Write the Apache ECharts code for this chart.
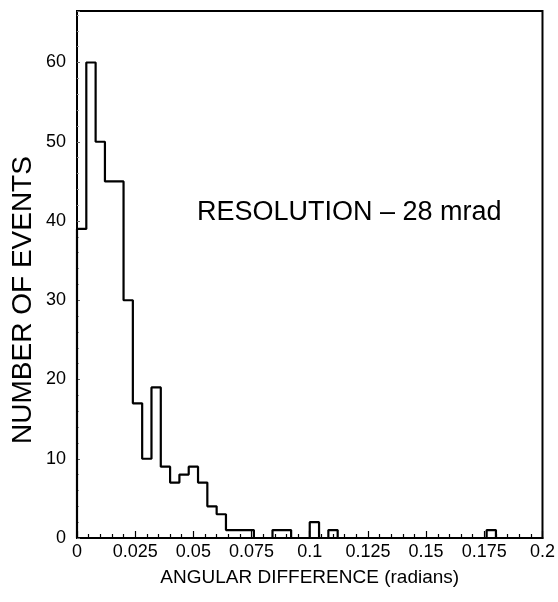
<!DOCTYPE html>
<html>
<head>
<meta charset="utf-8">
<script src="https://cdn.jsdelivr.net/npm/echarts@6/dist/echarts.min.js"></script>
<style>
html,body{margin:0;padding:0;background:#fff;}
#chart{width:558px;height:602px;}
</style>
</head>
<body>
<div id="chart"></div>
<script>
// Histogram of angular difference (radians), bin width 0.004, 50 bins from 0 to 0.2
var binStart = 0;
var binWidth = 0.004;
var counts = [39, 60, 50, 45, 45, 30, 17, 10, 19, 9,
              7, 8, 9, 7, 4, 3, 1, 1, 1, 0,
              0, 1, 1, 0, 0, 2, 0, 1, 0, 0,
              0, 0, 0, 0, 0, 0, 0, 0, 0, 0,
              0, 0, 0, 0, 1, 0, 0, 0, 0, 0];
var xMin = 0, xMax = 0.2, xInterval = 0.025;
var yMin = 0, yMax = 66.5, yInterval = 10;
var xAxisTitle = 'ANGULAR DIFFERENCE (radians)';
var yAxisTitle = 'NUMBER OF EVENTS';
var annotation = 'RESOLUTION \u2013 28 mrad';

var stepData = [[binStart, 0]];
for (var i = 0; i < counts.length; i++) {
  stepData.push([binStart + i * binWidth, counts[i]]);
}
stepData.push([binStart + counts.length * binWidth, counts[counts.length - 1]]);

var FONT = '"Liberation Sans", Arial, sans-serif';
var chart = echarts.init(document.getElementById('chart'), null, {renderer: 'canvas'});
chart.setOption({
  animation: false,
  backgroundColor: '#fff',
  grid: {left: 77, right: 14, top: 11, bottom: 64, show: true, borderColor: '#000', borderWidth: 2, containLabel: false},
  xAxis: {
    type: 'value', min: xMin, max: xMax, interval: xInterval,
    name: xAxisTitle, nameLocation: 'middle', nameGap: 30,
    nameTextStyle: {fontFamily: FONT, fontSize: 19, color: '#000'},
    axisLine: {show: true, lineStyle: {color: '#000', width: 2}},
    axisTick: {show: true, inside: true, length: 7, lineStyle: {color: '#000', width: 1.2}},
    minorTick: {show: true, splitNumber: 5, length: 4, lineStyle: {color: '#000', width: 1.2}},
    axisLabel: {fontFamily: FONT, fontSize: 18, color: '#000', margin: 5},
    splitLine: {show: false}
  },
  yAxis: {
    type: 'value', min: yMin, max: yMax, interval: yInterval,
    axisLine: {show: true, lineStyle: {color: '#000', width: 2}},
    axisTick: {show: true, inside: true, length: 3, lineStyle: {color: '#666', width: 1}},
    minorTick: {show: true, splitNumber: 5, length: 2, lineStyle: {color: '#999', width: 1}},
    axisLabel: {fontFamily: FONT, fontSize: 18, color: '#000', margin: 11, showMaxLabel: false},
    splitLine: {show: false}
  },
  graphic: [
    {type: 'text', left: 197, top: 199, style: {text: annotation, font: '27px ' + FONT, fill: '#000'}},
    {type: 'text', x: 23, y: 300, rotation: Math.PI / 2,
     style: {text: yAxisTitle, font: '28px ' + FONT, fill: '#000', align: 'center', verticalAlign: 'middle'}}
  ],
  series: [{
    type: 'line', step: 'end', data: stepData, showSymbol: false, symbol: 'none',
    lineStyle: {color: '#000', width: 2.2}, clip: false
  }]
});
</script>
</body>
</html>
